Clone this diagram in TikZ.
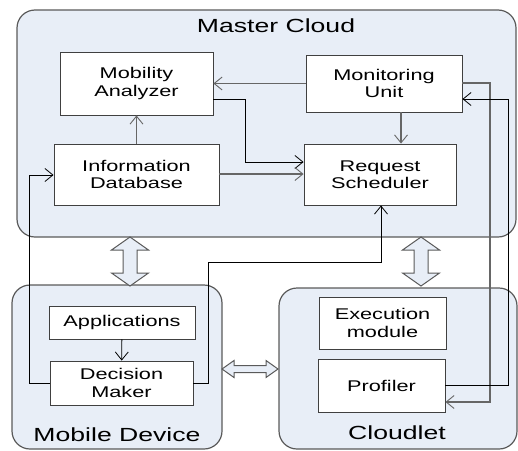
\documentclass[tikz,border=0pt]{standalone}
\usepackage{fontspec}
\setmainfont[FakeStretch=1.4]{Liberation Sans}
\usetikzlibrary{arrows.meta}
\definecolor{cfill}{HTML}{E8EEF7}
\definecolor{cedge}{HTML}{5A5A5A}
\begin{document}
\begin{tikzpicture}[x=1pt,y=-1pt,
  container/.style={draw=cedge, fill=cfill, line width=1.2pt, rounded corners=18pt},
  mod/.style={draw=black!75, fill=white, line width=0.9pt, inner sep=0pt, align=center,
    font=\fontsize{15.5}{17.5}\selectfont},
  ttl/.style={inner sep=0pt, font=\fontsize{19}{21}\selectfont},
  gl/.style={draw=black!60, line width=1.3pt, -{Straight Barb[length=8pt,width=13pt,line width=0.9pt]}},
  bl/.style={draw=black, line width=0.8pt, -{Straight Barb[length=8pt,width=13pt]}},
  blockarrow/.style={draw=cedge, fill=cfill, line width=1pt, line join=miter}]
\useasboundingbox (0,0) rectangle (518,450);
% containers
\draw[container] (17,10) rectangle (516,237);
\draw[container] (12,285) rectangle (222,449);
\draw[container] (279,288) rectangle (517,449);
\node[ttl] (mct) at (276,26) {Master Cloud};
\node[ttl] (mdt) at (117,435) {Mobile Device};
\node[ttl] (clt) at (397,433) {Cloudlet};
% block arrows
\draw[blockarrow] (130,237) -- (148.5,250) -- (137,250) -- (137,273) -- (148.5,273) -- (130,286)
  -- (111.5,273) -- (123,273) -- (123,250) -- (111.5,250) -- cycle;
\draw[blockarrow] (421,237) -- (439.5,250) -- (428,250) -- (428,273) -- (439.5,273) -- (421,286)
  -- (402.5,273) -- (414,273) -- (414,250) -- (402.5,250) -- cycle;
\draw[blockarrow] (222,369) -- (234,360.5) -- (234,365.5) -- (266,365.5) -- (266,360.5) -- (278,369)
  -- (266,377.5) -- (266,372.5) -- (234,372.5) -- (234,377.5) -- cycle;
% modules
\node[mod, minimum width=153pt, minimum height=63pt] (ma) at (136.5,83.5) {Mobility\\Analyzer};
\node[mod, minimum width=165pt, minimum height=61pt] (idb) at (136.5,174.5) {Information\\Database};
\node[mod, minimum width=156pt, minimum height=57pt] (mu) at (384,83.5) {Monitoring\\Unit};
\node[mod, minimum width=152pt, minimum height=61pt] (rs) at (380,174.5) {Request\\Scheduler};
\node[mod, minimum width=146pt, minimum height=33pt] (app) at (122,322.5) {Applications};
\node[mod, minimum width=143pt, minimum height=44pt] (dm) at (121.5,383) {Decision\\Maker};
\node[mod, minimum width=127pt, minimum height=52pt] (em) at (382.5,323) {Execution\\module};
\node[mod, minimum width=127pt, minimum height=53pt] (prof) at (381.5,385.5) {Profiler};
% connectors
\draw[gl] (idb) -- (ma);
\draw[gl] (mu) -- (ma);
\draw[bl] (ma.east |- 0,99) -- (245,99) -- (245,162) -- (rs.west |- 0,162);
\draw[gl] (idb.east |- 0,174) -- (rs.west |- 0,174);
\draw[gl] (mu.south -| 401,0) -- (rs.north -| 401,0);
\draw[gl] (mu.east |- 0,83) -- (490,83) -- (490,402) -- (prof.east |- 0,402);
\draw[bl] (prof.east |- 0,385) -- (508,385) -- (508,99) -- (mu.east |- 0,99);
\draw[bl] (dm.east) -- (208,383) -- (208,262) -- (381,262) -- (rs.south -| 381,0);
\draw[bl] (dm.west) -- (29,383) -- (29,175) -- (idb.west |- 0,175);
\draw[bl] (app) -- (dm);
\end{tikzpicture}
\end{document}
